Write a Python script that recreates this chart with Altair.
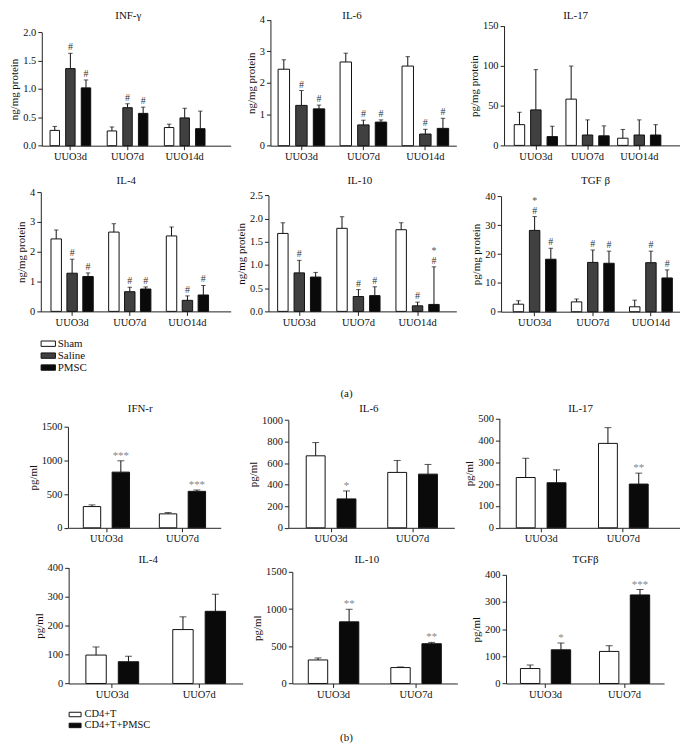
import altair as alt
import pandas as pd

FONT = "Liberation Serif"

# ---------------- data ----------------
GROUPS_A = ["UUO3d", "UUO7d", "UUO14d"]
SERIES_A = ["Sham", "Saline", "PMSC"]
GROUPS_B = ["UUO3d", "UUO7d"]
SERIES_B = ["CD4+T", "CD4+T+PMSC"]

# (a) panels: [series][group]; "*\n#" = star above hash
INF_MEAN = [[0.27, 0.26, 0.32], [1.36, 0.67, 0.49], [1.02, 0.57, 0.30]]
INF_TOP = [[0.34, 0.33, 0.38], [1.63, 0.74, 0.66], [1.16, 0.68, 0.61]]
INF_SIG = [["", "", ""], ["#", "#", ""], ["#", "#", ""]]

IL6A_MEAN = [[2.43, 2.66, 2.53], [1.28, 0.66, 0.37], [1.17, 0.75, 0.55]]
IL6A_TOP = [[2.73, 2.94, 2.83], [1.75, 0.81, 0.52], [1.29, 0.82, 0.87]]
IL6A_SIG = [["", "", ""], ["#", "#", "#"], ["#", "#", "#"]]

IL17A_MEAN = [[26, 58, 9], [44.5, 13, 13], [11, 12, 13]]
IL17A_TOP = [[41.5, 99.5, 20], [95, 32, 32], [24, 24.5, 26]]
IL17A_SIG = [["", "", ""], ["", "", ""], ["", "", ""]]

IL4A_MEAN = [[2.43, 2.66, 2.53], [1.28, 0.66, 0.37], [1.17, 0.75, 0.55]]
IL4A_TOP = [[2.73, 2.94, 2.83], [1.75, 0.81, 0.52], [1.29, 0.82, 0.87]]
IL4A_SIG = [["", "", ""], ["#", "#", "#"], ["#", "#", "#"]]

IL10A_MEAN = [[1.68, 1.79, 1.76], [0.83, 0.32, 0.12], [0.74, 0.34, 0.15]]
IL10A_TOP = [[1.91, 2.04, 1.91], [1.10, 0.47, 0.20], [0.84, 0.53, 0.96]]
IL10A_SIG = [["", "", ""], ["#", "#", "#"], ["", "#", "*\n#"]]

TGFA_MEAN = [[2.6, 3.4, 1.7], [28.2, 17.1, 17.0], [18.2, 16.8, 11.7]]
TGFA_TOP = [[3.8, 4.4, 4.0], [33.0, 21.4, 21.0], [22.0, 21.0, 14.5]]
TGFA_SIG = [["", "", ""], ["*\n#", "#", "#"], ["#", "#", "#"]]

# (b) panels: [series][group]
IFN_MEAN = [[315, 207], [826, 541]]
IFN_TOP = [[340, 226], [994, 561]]
IFN_SIG = [["", ""], ["***", "***"]]

IL6B_MEAN = [[668, 514], [268, 498]]
IL6B_TOP = [[791, 625], [342, 588]]
IL6B_SIG = [["", ""], ["*", ""]]

IL17B_MEAN = [[230, 386], [206, 200]]
IL17B_TOP = [[318, 458], [265, 250]]
IL17B_SIG = [["", ""], ["", "**"]]

IL4B_MEAN = [[98, 186], [75, 249]]
IL4B_TOP = [[126, 230], [94, 308]]
IL4B_SIG = [["", ""], ["", ""]]

IL10B_MEAN = [[316, 214], [828, 534]]
IL10B_TOP = [[343, 222], [997, 552]]
IL10B_SIG = [["", ""], ["**", "**"]]

TGFB_MEAN = [[55, 118], [124, 326]]
TGFB_TOP = [[68, 139], [149, 346]]
TGFB_SIG = [["", ""], ["*", "***"]]

PANELS = [
    dict(title="INF-γ", ytitle="ng/mg protein", ticks=[0, 0.5, 1.0, 1.5, 2.0], fmt=".1f",
         groups=GROUPS_A, series=SERIES_A, mean=INF_MEAN, top=INF_TOP, sig=INF_SIG),
    dict(title="IL-6", ytitle="ng/mg protein", ticks=[0, 1, 2, 3, 4], fmt="d",
         groups=GROUPS_A, series=SERIES_A, mean=IL6A_MEAN, top=IL6A_TOP, sig=IL6A_SIG),
    dict(title="IL-17", ytitle="pg/mg protein", ticks=[0, 50, 100, 150], fmt="d",
         groups=GROUPS_A, series=SERIES_A, mean=IL17A_MEAN, top=IL17A_TOP, sig=IL17A_SIG),
    dict(title="IL-4", ytitle="ng/mg protein", ticks=[0, 1, 2, 3, 4], fmt="d",
         groups=GROUPS_A, series=SERIES_A, mean=IL4A_MEAN, top=IL4A_TOP, sig=IL4A_SIG),
    dict(title="IL-10", ytitle="ng/mg protein", ticks=[0, 0.5, 1.0, 1.5, 2.0, 2.5], fmt=".1f",
         groups=GROUPS_A, series=SERIES_A, mean=IL10A_MEAN, top=IL10A_TOP, sig=IL10A_SIG),
    dict(title="TGF β", ytitle="pg/mg protein", ticks=[0, 10, 20, 30, 40], fmt="d",
         groups=GROUPS_A, series=SERIES_A, mean=TGFA_MEAN, top=TGFA_TOP, sig=TGFA_SIG),
    dict(title="IFN-r", ytitle="pg/ml", ticks=[0, 500, 1000, 1500], fmt="d",
         groups=GROUPS_B, series=SERIES_B, mean=IFN_MEAN, top=IFN_TOP, sig=IFN_SIG),
    dict(title="IL-6", ytitle="pg/ml", ticks=[0, 200, 400, 600, 800, 1000], fmt="d",
         groups=GROUPS_B, series=SERIES_B, mean=IL6B_MEAN, top=IL6B_TOP, sig=IL6B_SIG),
    dict(title="IL-17", ytitle="pg/ml", ticks=[0, 100, 200, 300, 400, 500], fmt="d",
         groups=GROUPS_B, series=SERIES_B, mean=IL17B_MEAN, top=IL17B_TOP, sig=IL17B_SIG),
    dict(title="IL-4", ytitle="pg/ml", ticks=[0, 100, 200, 300, 400], fmt="d",
         groups=GROUPS_B, series=SERIES_B, mean=IL4B_MEAN, top=IL4B_TOP, sig=IL4B_SIG),
    dict(title="IL-10", ytitle="pg/ml", ticks=[0, 500, 1000, 1500], fmt="d",
         groups=GROUPS_B, series=SERIES_B, mean=IL10B_MEAN, top=IL10B_TOP, sig=IL10B_SIG),
    dict(title="TGFβ", ytitle="pg/ml", ticks=[0, 100, 200, 300, 400], fmt="d",
         groups=GROUPS_B, series=SERIES_B, mean=TGFB_MEAN, top=TGFB_TOP, sig=TGFB_SIG),
]

COLORS_A = ["#ffffff", "#404040", "#0a0a0a"]
COLORS_B = ["#ffffff", "#0a0a0a"]

# ---------------- layout (page pixel coordinates) ----------------
COL_X = [8, 236, 470]
COL_W = [228, 234, 210]
ROW_Y = [8, 162, 400, 548]
ROW_H = [154, 238, 148, 196]

LAYOUT = [
    dict(axis=38, right=228, top=28.3, bottom=142.3, tx=125, ty=13.5, c1=66.5, step=57.5, w=9.5, d=15.7),
    dict(axis=268, right=455, top=15.7, bottom=142.3, tx=350, ty=13.5, c1=299, step=63, w=11.5, d=17.7),
    dict(axis=503, right=680, top=21.7, bottom=142, tx=575, ty=13.5, c1=535, step=52, w=10.5, d=16.5),
    dict(axis=37, right=228, top=189, bottom=309, tx=123, ty=179, c1=68.5, step=58, w=10.5, d=16),
    dict(axis=266, right=455, top=192.3, bottom=309, tx=358, ty=179, c1=297, step=59.5, w=10.5, d=16.5),
    dict(axis=500, right=680, top=193.3, bottom=309.3, tx=595, ty=179, c1=534.5, step=58.5, w=10.5, d=16.3),
    dict(axis=64.3, right=218, top=425, bottom=526.7, tx=137, ty=409, c1=103, step=76.5, w=17.5, d=29),
    dict(axis=286, right=453, top=418.3, bottom=526.7, tx=367, ty=409, c1=329, step=82, w=19, d=31),
    dict(axis=498.3, right=680, top=416.7, bottom=526.7, tx=580, ty=409, c1=540.3, step=82.7, w=19, d=31),
    dict(axis=65, right=240, top=566.7, bottom=683.3, tx=145, ty=561, c1=109, step=87.4, w=20.5, d=32.6),
    dict(axis=290, right=456, top=571, bottom=683.3, tx=365, ty=561, c1=330.3, step=83.7, w=19.5, d=31.3),
    dict(axis=505, right=664, top=574, bottom=683.3, tx=585, ty=561, c1=540, step=82.3, w=19.5, d=31),
]

LEGEND_PATH = "M-1.2,-0.45H1.2V0.45H-1.2Z"


def make_panel(i):
    p = PANELS[i]
    lay = LAYOUT[i]
    row, col = divmod(i, 3)
    x0, y0, W, H = COL_X[col], ROW_Y[row], COL_W[col], ROW_H[row]
    groups, series = p["groups"], p["series"]
    is_a = len(series) == 3

    recs = []
    for si, s in enumerate(series):
        for gi, g in enumerate(groups):
            parts = p["sig"][si][gi].split("\n")
            lower = parts[-1]
            upper = parts[0] if len(parts) > 1 else ""
            recs.append(dict(group=g, series=s, value=p["mean"][si][gi],
                             top=p["top"][si][gi], sig=lower, sig2=upper))
    df = pd.DataFrame(recs)

    n, m = len(groups), len(series)
    a, b = lay["axis"] - x0, lay["right"] - x0
    L = b - a
    po = max(0.0, (L / lay["step"] - n) / 2)
    st = L / (n + 2 * po)
    slack = L - st * n
    al = 0.5 if slack < 1e-6 else min(1.0, max(0.0, (lay["c1"] - x0 - st / 2 - a) / slack))
    pi_o = 1 - lay["w"] / lay["d"]
    po_o = max(0.0, (st / lay["d"] - m + pi_o) / 2)
    ybot, ytop = lay["bottom"] - y0, lay["top"] - y0

    xtitle = None
    xextra = {}
    if i == 4:
        xtitle = "(a)"
        xextra = dict(titleX=344 - x0, titleY=392 - lay["bottom"])
    if i == 10:
        xtitle = "(b)"
        xextra = dict(titleX=344 - x0, titleY=738 - lay["bottom"])

    xaxis = alt.Axis(title=xtitle, offset=ybot - H, labelAngle=0, tickSize=4,
                     labelPadding=2, labelFontSize=10.5, domainColor="#222",
                     tickColor="#222", labelColor="#111", titleFontSize=11,
                     titleFontWeight="normal", titleColor="#111", titleBaseline="middle",
                     titleAlign="center", **xextra)
    xscale = alt.Scale(domain=groups, range=[a, b], paddingInner=0, paddingOuter=po, align=al)
    yaxis = alt.Axis(title=p["ytitle"], values=p["ticks"], format=p["fmt"], offset=-a,
                     tickSize=4, labelPadding=2, labelFontSize=10.5, titleFontSize=11,
                     titleFontWeight="normal", titlePadding=3, domainColor="#222",
                     tickColor="#222", labelColor="#111", titleColor="#111", grid=False)
    yscale = alt.Scale(domain=[0, p["ticks"][-1]], range=[ybot, ytop], nice=False, zero=True)

    X = alt.X("group:N", sort=groups, scale=xscale, axis=xaxis, title=xtitle)
    XO = alt.XOffset("series:N", sort=series,
                     scale=alt.Scale(domain=series, paddingInner=pi_o, paddingOuter=po_o))

    legend = None
    if i == 3:
        legend = alt.Legend(orient="none", legendX=38 - x0, legendY=335 - y0, title=None,
                            symbolType=LEGEND_PATH, symbolSize=144, symbolStrokeColor="#111",
                            symbolStrokeWidth=1, labelFontSize=11, labelColor="#111",
                            labelOffset=3, rowPadding=0, padding=0, direction="vertical")
    if i == 9:
        legend = alt.Legend(orient="none", legendX=66 - x0, legendY=709 - y0, title=None,
                            symbolType=LEGEND_PATH, symbolSize=100, symbolStrokeColor="#111",
                            symbolStrokeWidth=1, labelFontSize=10.5, labelColor="#111",
                            labelOffset=4, rowPadding=0, padding=0, direction="vertical")

    colors = COLORS_A if is_a else COLORS_B
    F = alt.Fill("series:N", sort=series, scale=alt.Scale(domain=series, range=colors),
                 legend=legend)

    Ytop = alt.Y("top:Q", scale=yscale, axis=yaxis, title=p["ytitle"])
    base = alt.Chart(df).encode(x=X, xOffset=XO)
    bars = base.mark_bar(stroke="#111", strokeWidth=1).encode(
        y=alt.Y("value:Q", scale=yscale, axis=yaxis, title=p["ytitle"]), fill=F)
    errs = base.mark_rule(color="#111", strokeWidth=1).encode(
        y=alt.Y("value:Q", scale=yscale, axis=yaxis, title=p["ytitle"]), y2="top:Q")
    caps = base.mark_tick(color="#111", orient="horizontal", thickness=1,
                          size=4.5 if is_a else 7).encode(y=Ytop)
    sig = base.mark_text(baseline="bottom", dy=-1 if is_a else 0,
                         fontSize=10 if is_a else 11,
                         color="#333" if is_a else "#888").encode(y=Ytop, text="sig:N")
    sig2 = base.mark_text(baseline="bottom", dy=-11, fontSize=10,
                          color="#555").encode(y=Ytop, text="sig2:N")

    title = alt.TitleParams(text=p["title"], anchor="middle", frame="group",
                            offset=-(lay["ty"] - y0 + 3.5), dx=(lay["tx"] - x0) - W / 2,
                            fontSize=11, fontWeight="normal", color="#111", font=FONT)
    return alt.layer(bars, errs, caps, sig, sig2).properties(width=W, height=H, title=title)


panels = [make_panel(i) for i in range(12)]

chart = (
    alt.concat(*panels, columns=3, spacing=0, bounds="flush")
    .resolve_scale(x="independent", y="independent", xOffset="independent", fill="independent")
    .properties(padding=0)
    .configure_view(stroke=None)
    .configure_axis(labelFont=FONT, titleFont=FONT)
    .configure_legend(labelFont=FONT)
    .configure_text(font=FONT)
    .configure_title(font=FONT)
)

chart.save("out.html", embed_options={"renderer": "svg", "actions": False})
